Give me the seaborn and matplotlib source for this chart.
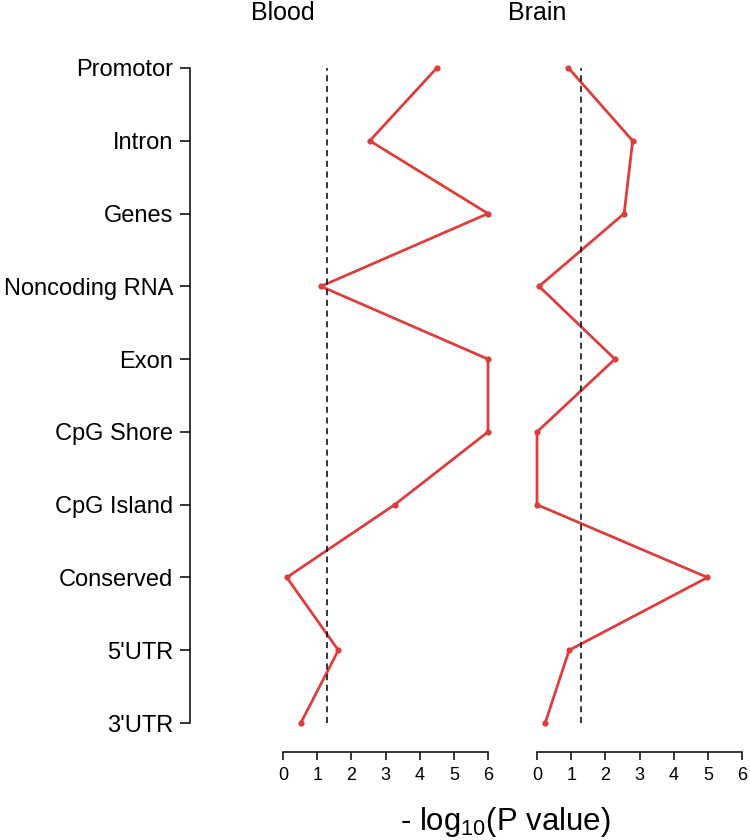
import matplotlib
matplotlib.use("Agg")
import matplotlib.pyplot as plt
import seaborn as sns
import pandas as pd

categories = ["Promotor", "Intron", "Genes", "Noncoding RNA", "Exon",
              "CpG Shore", "CpG Island", "Conserved", "5'UTR", "3'UTR"]
blood = [4.5, 2.54, 6.0, 1.11, 6.0, 6.0, 3.27, 0.11, 1.62, 0.52]
brain = [0.92, 2.80, 2.55, 0.06, 2.28, 0.0, 0.0, 4.99, 0.94, 0.24]
panels = ["Blood", "Brain"]
threshold = 1.3
xticks = [0, 1, 2, 3, 4, 5, 6]

sns.set_style("white")
plt.rcParams['font.family'] = ['Liberation Sans', 'DejaVu Sans']
plt.rcParams['mathtext.fontset'] = 'custom'
plt.rcParams['mathtext.rm'] = 'Liberation Sans'
plt.rcParams['mathtext.it'] = 'Liberation Sans:italic'
plt.rcParams['text.color'] = 'black'
plt.rcParams['xtick.color'] = 'black'
plt.rcParams['ytick.color'] = 'black'
plt.rcParams['axes.labelcolor'] = 'black'

W, H = 750, 840
fig = plt.figure(figsize=(7.5, 8.4), dpi=100)

red = "#DC3E3E"
y_top, y_bot = 68, 723
lefts = [283, 537]
width = 205

for i, (name, vals) in enumerate(zip(panels, [blood, brain])):
    ax = fig.add_axes([lefts[i] / W, (H - y_bot) / H, width / W, (y_bot - y_top) / H])
    df = pd.DataFrame({"value": vals, "pos": list(range(len(categories)))})
    sns.lineplot(data=df, x="value", y="pos", sort=False, ax=ax, color=red,
                 linewidth=2.0, marker="o", markersize=4.5, markeredgewidth=0,
                 clip_on=False, estimator=None)
    ax.axvline(threshold, color="black", linestyle=(0, (4, 3)), linewidth=1.1)
    ax.set_xlim(0, 6)
    ax.set_ylim(len(categories) - 1, 0)
    ax.set_xlabel("")
    ax.set_ylabel("")
    ax.tick_params(axis="x", direction="out", length=6, width=1.1, pad=5,
                   bottom=True, color="black", labelsize=13, labelcolor="black")
    ax.set_xticks(xticks)
    ax.set_xticklabels([str(t) for t in xticks])
    for s in ["top", "right"]:
        ax.spines[s].set_visible(False)
    ax.spines["bottom"].set_position(("outward", 21))
    ax.spines["bottom"].set_linewidth(1.1)
    ax.spines["bottom"].set_color("black")
    if i == 0:
        ax.tick_params(axis="y", direction="out", length=7, width=1.1, pad=5,
                       left=True, color="black", labelsize=17, labelcolor="black")
        ax.set_yticks(range(len(categories)))
        ax.set_yticklabels(categories)
        ax.spines["left"].set_position(("outward", 67))
        ax.spines["left"].set_linewidth(1.1)
        ax.spines["left"].set_color("black")
    else:
        ax.spines["left"].set_visible(False)
        ax.set_yticks([])
    ax.patch.set_alpha(0)
    fig.text(lefts[i] / W, 1 - 20 / H, name, ha="center", va="baseline",
             fontsize=18, color="black")

fig.text(505 / W, 1 - 830 / H, r"- log$_{10}$(P value)", ha="center", va="baseline",
         fontsize=22.4, color="black")

fig.savefig("out.png", dpi=100)
